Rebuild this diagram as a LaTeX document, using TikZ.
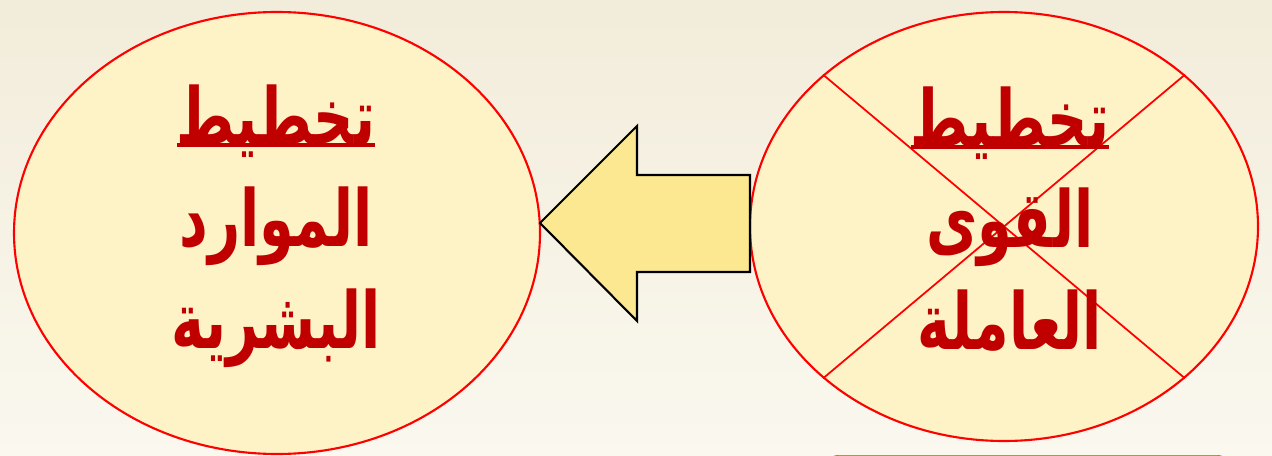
\documentclass[tikz,border=0pt]{standalone}
\usepackage{fontspec}
\usepackage{graphicx}
\usetikzlibrary{shapes.geometric}
\TeXXeTstate=1
\newfontfamily\arabicfont[Script=Arabic]{DejaVu Sans}
\newcommand\thickul[1]{\setbox0\hbox{#1}\leavevmode\rlap{\rule[-1.6pt]{\wd0}{2.4pt}}\box0}
\newcommand\arline[1]{\scalebox{0.74}[1.04]{\beginR #1\endR}}
\definecolor{bgtop}{HTML}{F2ECDA}
\definecolor{bgbot}{HTML}{FAF8EF}
\definecolor{ellfill}{HTML}{FEF2C7}
\definecolor{txtred}{HTML}{C00000}
\definecolor{arrfill}{HTML}{FCE890}
\definecolor{olivebox}{HTML}{9C8412}
\tikzset{
  oval/.style={ellipse, draw=red, line width=1.2pt, fill=ellfill, inner sep=0pt},
  arlabel/.style={text=txtred, align=center, font=\arabicfont\bfseries\fontsize{43}{58}\selectfont, inner sep=0pt},
  bigarrow/.style={draw=black, line width=1.2pt, fill=arrfill, line join=miter},
  crossline/.style={draw=red, line width=1pt}
}
\begin{document}
\begin{tikzpicture}[x=0.02cm, y=-0.02cm]
\useasboundingbox (0,0) rectangle (1272,456);
\fill[top color=bgtop, bottom color=bgbot] (0,0) rectangle (1272,456);
\node[draw=olivebox, fill=olivebox!70, rounded corners=6pt, minimum width=401*0.02cm, minimum height=20*0.02cm, anchor=north west, inner sep=0pt] (box) at (827,455) {};
\node[oval, minimum width=526*0.02cm, minimum height=442*0.02cm] (L) at (277,233) {};
\node[oval, minimum width=508*0.02cm, minimum height=429*0.02cm] (R) at (1004,226.5) {};
\draw[crossline] (R.140) -- (R.-40);
\draw[crossline] (R.40) -- (R.-140);
\node[arlabel] (Lt) at (276,226) {\thickul{\arline{تخطيط}}\\\arline{الموارد}\\\arline{البشرية}};
\node[arlabel] (Rt) at (1010,219) {\thickul{\arline{تخطيط}}\\\arline{القوى}\\\arline{العاملة}};
\coordinate (tip) at (540,223);
\coordinate (tail) at (750,223);
\draw[bigarrow] (tip) -- (637,126) -- (637,175) -- (tail |- 0,175) -- (tail |- 0,272) -- (637,272) -- (637,321) -- cycle;
\end{tikzpicture}
\end{document}
